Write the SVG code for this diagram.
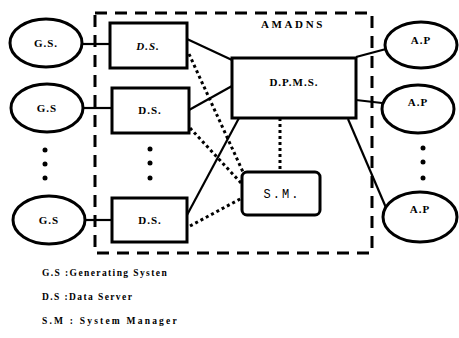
<svg xmlns="http://www.w3.org/2000/svg" width="459" height="338" viewBox="0 0 459 338">
<style>
.node{fill:#fff;stroke:#000;stroke-width:3}
.lbl{font-family:"Liberation Serif",serif;font-weight:bold;font-size:11px;text-anchor:middle;fill:#000;letter-spacing:1px}
.mono{font-family:"Liberation Mono",monospace;font-size:12px;text-anchor:middle;fill:#000;letter-spacing:2px}
.leg{font-family:"Liberation Serif",serif;font-weight:bold;font-size:9.5px;fill:#000;letter-spacing:1.4px}
.solid{stroke:#000;stroke-width:2.2;fill:none}
.dot{stroke:#000;stroke-width:3;fill:none;stroke-dasharray:3 3}
.dots circle{fill:#000}
</style>
<rect x="0" y="0" width="459" height="338" fill="#fff"/>
<g id="boundary">
<rect x="95" y="13" width="277" height="240" fill="none" stroke="#000" stroke-width="3" stroke-dasharray="12 8"/>
<text x="293" y="28" class="lbl" style="font-size:11px;letter-spacing:2.6px">AMADNS</text>
</g>
<g id="connectors">
<line class="solid" x1="83" y1="44" x2="110" y2="44"/>
<line class="solid" x1="84" y1="108" x2="112" y2="108"/>
<line class="solid" x1="85" y1="220" x2="112" y2="220"/>
<line class="solid" x1="187" y1="39" x2="232" y2="60"/>
<line class="solid" x1="189" y1="110" x2="232" y2="86"/>
<line class="solid" x1="187" y1="215" x2="239" y2="118" stroke-width="3"/>
<line class="dot" x1="189" y1="54" x2="243" y2="172"/>
<line class="dot" x1="190" y1="128" x2="242" y2="184"/>
<line class="dot" x1="190" y1="226" x2="242" y2="198"/>
<line class="dot" x1="280" y1="118" x2="280" y2="172"/>
<line class="solid" x1="356" y1="57" x2="386" y2="49"/>
<line class="solid" x1="356" y1="100" x2="382" y2="103"/>
<line class="solid" x1="348" y1="119" x2="387" y2="210" stroke-width="2.5"/>
</g>
<g id="gs1"><ellipse class="node" cx="46" cy="43" rx="36" ry="24"/><text x="46" y="47" class="lbl">G.S.</text></g>
<g id="gs2"><ellipse class="node" cx="47" cy="108" rx="36" ry="24"/><text x="47" y="112" class="lbl">G.S</text></g>
<g id="gs3"><ellipse class="node" cx="49" cy="220" rx="36" ry="24"/><text x="49" y="224" class="lbl">G.S</text></g>
<g class="dots" id="gsdots"><circle cx="45" cy="150" r="2.5"/><circle cx="45" cy="164" r="2.5"/><circle cx="45" cy="178" r="2.5"/></g>
<g id="ds1"><rect class="node" x="110" y="23" width="77" height="45"/><text x="148" y="50" class="lbl" font-style="italic">D.S.</text></g>
<g id="ds2"><rect class="node" x="112" y="88" width="77" height="45"/><text x="150" y="114" class="lbl">D.S.</text></g>
<g id="ds3"><rect class="node" x="112" y="198" width="75" height="44"/><text x="150" y="224" class="lbl">D.S.</text></g>
<g class="dots" id="dsdots"><circle cx="150" cy="149" r="2.5"/><circle cx="150" cy="163" r="2.5"/><circle cx="150" cy="178" r="2.5"/></g>
<g id="dpms"><rect class="node" x="232" y="58" width="124" height="60"/><text x="294" y="86" class="lbl">D.P.M.S.</text></g>
<g id="sm"><rect class="node" x="242" y="172" width="78" height="43" rx="5"/><text x="282" y="198" class="mono">S.M.</text></g>
<g id="ap1"><ellipse class="node" cx="421" cy="45" rx="36" ry="23"/><text x="421" y="44" class="lbl">A.P</text></g>
<g id="ap2"><ellipse class="node" cx="418" cy="109" rx="36" ry="24"/><text x="418" y="106" class="lbl">A.P</text></g>
<g id="ap3"><ellipse class="node" cx="420" cy="217" rx="37" ry="25"/><text x="420" y="213" class="lbl">A.P</text></g>
<g class="dots" id="apdots"><circle cx="423" cy="148" r="2.5"/><circle cx="423" cy="162" r="2.5"/><circle cx="423" cy="178" r="2.5"/></g>
<g id="legend">
<text x="42" y="276" class="leg">G.S :Generating Systen</text>
<text x="42" y="300" class="leg">D.S :Data Server</text>
<text x="42" y="324" class="leg" style="letter-spacing:2.2px">S.M : System Manager</text>
</g>
</svg>
